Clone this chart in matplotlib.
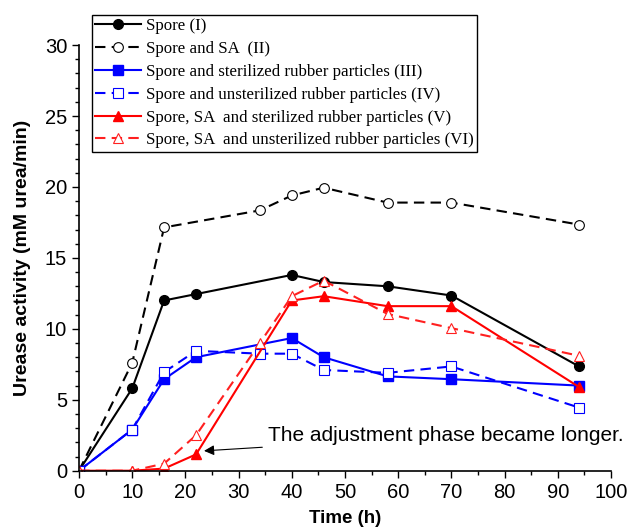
import matplotlib
matplotlib.use("Agg")
import matplotlib.pyplot as plt
from matplotlib.ticker import MultipleLocator

# data
t1 = [0, 10, 16, 22, 40, 46, 58, 70, 94]
s1 = [0, 5.8, 12.0, 12.45, 13.8, 13.3, 13.0, 12.35, 7.35]

t2 = [0, 10, 16, 34, 40, 46, 58, 70, 94]
s2 = [0, 7.6, 17.15, 18.35, 19.4, 19.95, 18.9, 18.9, 17.35]

t3 = [0, 10, 16, 22, 40, 46, 58, 70, 94]
s3 = [0, 2.9, 6.45, 8.0, 9.35, 8.0, 6.65, 6.45, 6.0]

t4 = [0, 10, 16, 22, 34, 40, 46, 58, 70, 94]
s4 = [0, 2.9, 6.95, 8.45, 8.25, 8.25, 7.1, 6.9, 7.35, 4.45]

t5 = [0, 10, 16, 22, 40, 46, 58, 70, 94]
s5 = [0, 0, 0.15, 1.15, 12.0, 12.3, 11.6, 11.6, 5.9]

t6 = [0, 10, 16, 22, 34, 40, 46, 58, 70, 94]
s6 = [0, 0, 0.5, 2.5, 9.0, 12.3, 13.4, 11.05, 10.05, 8.1]

labels = ["Spore (I)",
          "Spore and SA  (II)",
          "Spore and sterilized rubber particles (III)",
          "Spore and unsterilized rubber particles (IV)",
          "Spore, SA  and sterilized rubber particles (V)",
          "Spore, SA  and unsterilized rubber particles (VI)"]

plt.rcParams['font.family'] = ['Liberation Sans', 'DejaVu Sans']

fig = plt.figure(figsize=(6.3, 5.32), dpi=100)
ax = fig.add_axes([0.1254, 0.1152, 0.8444, 0.800])

dash = (0, (5, 3))
lw = 1.5
ax.plot(t1, s1, color='black', lw=lw, marker='o', ms=7, label=labels[0])
ax.plot(t2, s2, color='black', lw=lw, ls=dash, marker='o', ms=7,
        mfc='white', mew=0.8, label=labels[1])
ax.plot(t3, s3, color='blue', lw=lw, marker='s', ms=6.5, label=labels[2])
ax.plot(t4, s4, color='blue', lw=lw, ls=dash, marker='s', ms=6.5,
        mfc='white', mew=0.8, label=labels[3])
ax.plot(t5, s5, color='red', lw=lw, marker='^', ms=7.5, label=labels[4])
ax.plot(t6, s6, color='#ff2020', lw=lw, ls=dash, marker='^', ms=7.5,
        mfc='white', mew=0.8, label=labels[5])

ax.set_xlim(0, 100)
ax.set_ylim(0, 30)
ax.xaxis.set_major_locator(MultipleLocator(10))
ax.xaxis.set_minor_locator(MultipleLocator(5))
ax.yaxis.set_major_locator(MultipleLocator(5))
ax.yaxis.set_minor_locator(MultipleLocator(1))
ax.tick_params(which='major', direction='out', length=5, width=1, labelsize=14.5)
ax.tick_params(which='minor', direction='out', length=3, width=1)
ax.spines['top'].set_visible(False)
ax.spines['right'].set_visible(False)
ax.spines['left'].set_linewidth(1.2)
ax.spines['bottom'].set_linewidth(1.2)

ax.set_xlabel("Time (h)", fontsize=13.5, fontweight='bold', labelpad=6)
ax.set_ylabel("Urease activity (mM urea/min)", fontsize=14, fontweight='bold', labelpad=10)

ax.annotate("The adjustment phase became longer.", xy=(23.5, 1.4), xytext=(35.5, 2.45),
            fontsize=15, va='center', ha='left',
            arrowprops=dict(arrowstyle='-|>', color='black', lw=0.8, shrinkA=2, shrinkB=0))

leg = ax.legend(loc='upper left', bbox_to_anchor=(92/630, 1 - 15/532),
                bbox_transform=fig.transFigure, prop={'family': 'Liberation Serif', 'size': 12.2},
                frameon=True, fancybox=False, edgecolor='black', framealpha=1,
                handlelength=2.7, handletextpad=0.3, labelspacing=0.4, borderpad=0.2,
                borderaxespad=0)
leg.get_frame().set_linewidth(1.0)

plt.savefig("out.png", dpi=100)
